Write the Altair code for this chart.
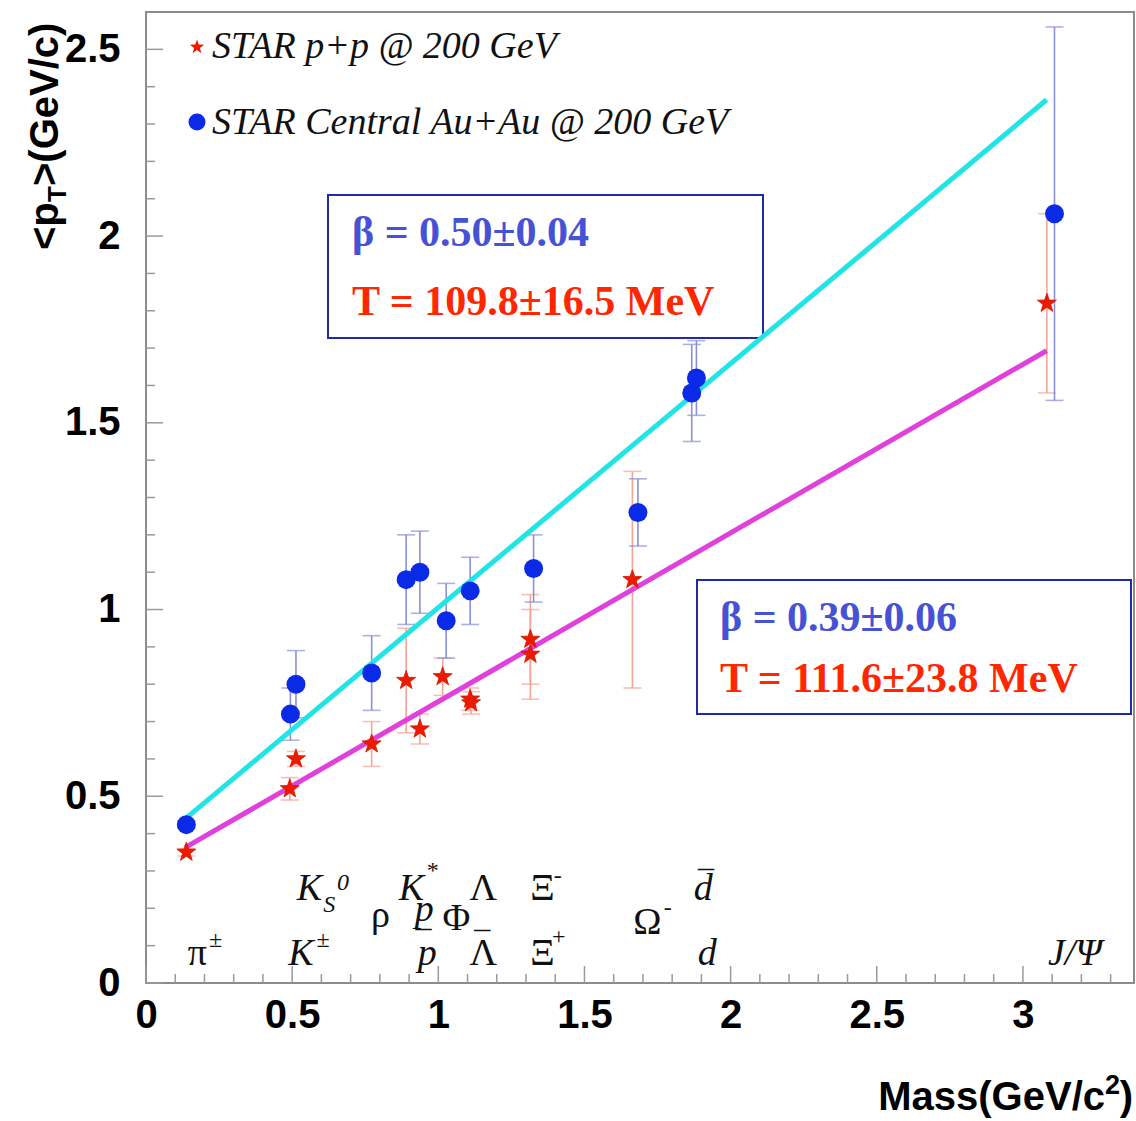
import altair as alt
import pandas as pd

# ---------------- data ----------------
# STAR Central Au+Au @ 200 GeV (blue circles)
aa_mass = [0.138, 0.494, 0.513, 0.772, 0.890, 0.937, 1.027, 1.109, 1.326, 1.683, 1.867, 1.883, 3.108]
aa_pt = [0.424, 0.72, 0.80, 0.83, 1.08, 1.10, 0.97, 1.05, 1.11, 1.26, 1.58, 1.62, 2.06]
aa_err = [0.01, 0.07, 0.09, 0.10, 0.12, 0.11, 0.10, 0.09, 0.09, 0.09, 0.13, 0.10, 0.50]

# STAR p+p @ 200 GeV (red stars)
pp_mass = [0.138, 0.492, 0.513, 0.772, 0.890, 0.937, 1.015, 1.109, 1.112, 1.315, 1.315, 1.664, 3.082]
pp_pt = [0.350, 0.52, 0.60, 0.64, 0.81, 0.68, 0.82, 0.76, 0.75, 0.92, 0.88, 1.08, 1.82]
pp_err = [0.01, 0.03, 0.02, 0.06, 0.14, 0.04, 0.05, 0.03, 0.03, 0.12, 0.12, 0.29, 0.24]

# blast-wave fit lines
fit_mass = [0.135, 3.081]
fit_aa = [0.440, 2.365]
fit_pp = [0.363, 1.693]

# axis ticks
x_major = [0, 0.5, 1, 1.5, 2, 2.5, 3]
x_minor = [0.1, 0.2, 0.3, 0.4, 0.6, 0.7, 0.8, 0.9, 1.1, 1.2, 1.3, 1.4, 1.6, 1.7, 1.8, 1.9,
           2.1, 2.2, 2.3, 2.4, 2.6, 2.7, 2.8, 2.9, 3.1, 3.2, 3.3]
y_major = [0, 0.5, 1, 1.5, 2, 2.5]
y_minor = [0.1, 0.2, 0.3, 0.4, 0.6, 0.7, 0.8, 0.9, 1.1, 1.2, 1.3, 1.4, 1.6, 1.7, 1.8, 1.9,
           2.1, 2.2, 2.3, 2.4]

# particle labels (text, mass position, height)
lab_italic = ["K", "K", "K", "p", "p", "d", "d", "J/Ψ"]
lab_italic_x = [0.530, 0.559, 0.908, 0.952, 0.962, 1.906, 1.920, 3.178]
lab_italic_y = [0.047, 0.221, 0.221, 0.167, 0.047, 0.221, 0.047, 0.047]

lab_normal = ["π", "ρ", "Φ", "Λ", "Λ", "Ξ", "Ξ", "Ω"]
lab_normal_x = [0.176, 0.802, 1.062, 1.154, 1.154, 1.356, 1.356, 1.715]
lab_normal_y = [0.047, 0.151, 0.141, 0.221, 0.047, 0.221, 0.047, 0.130]

sup_normal = ["±", "±", "*", "-", "+", "-"]
sup_normal_x = [0.238, 0.606, 0.981, 1.409, 1.412, 1.785]
sup_normal_y = [0.097, 0.097, 0.280, 0.269, 0.105, 0.181]

sup_italic = ["S", "0"]
sup_italic_x = [0.627, 0.674]
sup_italic_y = [0.189, 0.250]

bars = ["¯", "¯", "¯"]
bars_x = [0.949, 1.150, 1.916]
bars_y = [0.080, 0.078, 0.240]

legend_labels = ["STAR p+p @ 200 GeV", "STAR Central Au+Au @ 200 GeV"]
fit_text_aa = ["β = 0.50±0.04", "T = 109.8±16.5 MeV"]
fit_text_pp = ["β = 0.39±0.06", "T = 111.6±23.8 MeV"]

# ---------------- tables ----------------
aa = pd.DataFrame({"m": aa_mass, "v": aa_pt, "e": aa_err})
aa["lo"] = aa["v"] - aa["e"]
aa["hi"] = aa["v"] + aa["e"]
pp = pd.DataFrame({"m": pp_mass, "v": pp_pt, "e": pp_err})
pp["lo"] = pp["v"] - pp["e"]
pp["hi"] = pp["v"] + pp["e"]
fit = pd.DataFrame({"m": fit_mass, "aa": fit_aa, "pp": fit_pp})

W, H = 988, 971
SANS = "Liberation Sans"
SERIF = "Liberation Serif"
STAR = ("M0,-1L0.235,-0.324L0.951,-0.309L0.38,0.124L0.588,0.809L0,0.4"
        "L-0.588,0.809L-0.38,0.124L-0.951,-0.309L-0.235,-0.324Z")

xs = alt.Scale(domain=[0, 3.38], nice=False, zero=False)
ys = alt.Scale(domain=[0, 2.6], nice=False, zero=False)
xaxis = alt.Axis(values=x_major, format="~g", title=None, ticks=False, domain=False, grid=False,
                 labelFont=SANS, labelFontWeight="bold", labelFontSize=40, labelPadding=12,
                 labelColor="black", labelFlush=False, labelOverlap=False)
yaxis = alt.Axis(values=y_major, format="~g", title=None, ticks=False, domain=False, grid=False,
                 labelFont=SANS, labelFontWeight="bold", labelFontSize=40, labelPadding=26,
                 labelColor="black", labelFlush=False, labelOverlap=False)


def X(f):
    return alt.X(f, type="quantitative", scale=xs, axis=xaxis)


def Y(f):
    return alt.Y(f, type="quantitative", scale=ys, axis=yaxis)


layers = []

# axis ticks (inside the frame)
tick_col = "#9a9a9a"
layers.append(alt.Chart(pd.DataFrame({"v": y_major})).mark_rule(color=tick_col, strokeWidth=1.5)
              .encode(y=Y("v"), x=alt.value(0), x2=alt.value(17)))
layers.append(alt.Chart(pd.DataFrame({"v": y_minor})).mark_rule(color=tick_col, strokeWidth=1.5)
              .encode(y=Y("v"), x=alt.value(0), x2=alt.value(9)))
layers.append(alt.Chart(pd.DataFrame({"v": x_major})).mark_rule(color=tick_col, strokeWidth=1.5)
              .encode(x=X("v"), y=alt.value(H), y2=alt.value(H - 17)))
layers.append(alt.Chart(pd.DataFrame({"v": x_minor})).mark_rule(color=tick_col, strokeWidth=1.5)
              .encode(x=X("v"), y=alt.value(H), y2=alt.value(H - 9)))

# fit parameter boxes
box_col = "#1f2aa6"
layers.append(alt.Chart(pd.DataFrame({"a": [0]})).mark_rect(fill="white", stroke=box_col, strokeWidth=2)
              .encode(x=alt.value(182), x2=alt.value(617), y=alt.value(183), y2=alt.value(326)))
layers.append(alt.Chart(pd.DataFrame({"a": [1]})).mark_rect(fill="white", stroke=box_col, strokeWidth=2)
              .encode(x=alt.value(551), x2=alt.value(985), y=alt.value(568), y2=alt.value(702)))

for texts, x0, yb, yt in [(fit_text_aa, 206, 234, 303), (fit_text_pp, 574, 619, 680)]:
    layers.append(alt.Chart(pd.DataFrame({"t": [texts[0]]}))
                  .mark_text(font=SERIF, fontSize=42, fontWeight="bold", color="#4652d6",
                             align="left", baseline="alphabetic")
                  .encode(x=alt.value(x0), y=alt.value(yb), text="t:N"))
    layers.append(alt.Chart(pd.DataFrame({"t": [texts[1]]}))
                  .mark_text(font=SERIF, fontSize=42, fontWeight="bold", color="#ff2600",
                             align="left", baseline="alphabetic")
                  .encode(x=alt.value(x0), y=alt.value(yt), text="t:N"))

# legend (top left, inside frame)
layers.append(alt.Chart(pd.DataFrame({"t": [legend_labels[0]]}))
              .mark_text(font=SERIF, fontSize=38, fontStyle="italic", color="#111111",
                         align="left", baseline="alphabetic")
              .encode(x=alt.value(66), y=alt.value(46), text="t:N"))
layers.append(alt.Chart(pd.DataFrame({"t": [legend_labels[1]]}))
              .mark_text(font=SERIF, fontSize=38, fontStyle="italic", color="#111111",
                         align="left", baseline="alphabetic")
              .encode(x=alt.value(66), y=alt.value(122), text="t:N"))


# particle labels
def lab_layer(texts, xv, yv, size, style):
    df = pd.DataFrame({"t": texts, "m": xv, "v": yv})
    return (alt.Chart(df)
            .mark_text(font=SERIF, fontSize=size, fontStyle=style, color="#111111",
                       align="center", baseline="alphabetic")
            .encode(x=X("m"), y=Y("v"), text="t:N"))


layers.append(lab_layer(lab_italic, lab_italic_x, lab_italic_y, 38, "italic"))
layers.append(lab_layer(lab_normal, lab_normal_x, lab_normal_y, 38, "normal"))
layers.append(lab_layer(sup_normal, sup_normal_x, sup_normal_y, 24, "normal"))
layers.append(lab_layer(sup_italic, sup_italic_x, sup_italic_y, 24, "italic"))
layers.append(lab_layer(bars, bars_x, bars_y, 32, "normal"))

# axis titles
ytitle = [("<p", 58, 238, 40), ("T", 66, 190, 26), (">(GeV/c)", 58, 174, 40)]
for t, xv, yv, fs in ytitle:
    layers.append(alt.Chart(pd.DataFrame({"t": [t]}))
                  .mark_text(font=SANS, fontSize=fs, fontWeight="bold", color="black",
                             align="left", baseline="alphabetic", angle=270)
                  .encode(x=alt.value(xv - 146), y=alt.value(yv), text="t:N"))

xtitle = [("Mass(GeV/c", 959, 1098, 40), ("2", 974, 1082, 27), (")", 987, 1098, 40)]
for t, xv, yv, fs in xtitle:
    layers.append(alt.Chart(pd.DataFrame({"t": [t]}))
                  .mark_text(font=SANS, fontSize=fs, fontWeight="bold", color="black",
                             align="right", baseline="alphabetic")
                  .encode(x=alt.value(xv), y=alt.value(yv), text="t:N"))

# error bars
for df, col in [(pp, "#f3a595"), (aa, "#8a90d2")]:
    layers.append(alt.Chart(df).mark_rule(color=col, strokeWidth=1.6)
                  .encode(x=X("m"), y=Y("lo"), y2="hi"))
    layers.append(alt.Chart(df).mark_tick(color=col, orient="horizontal", size=18, thickness=1.6)
                  .encode(x=X("m"), y=Y("lo")))
    layers.append(alt.Chart(df).mark_tick(color=col, orient="horizontal", size=18, thickness=1.6)
                  .encode(x=X("m"), y=Y("hi")))

# fit lines
layers.append(alt.Chart(fit).mark_line(color="#e040dc", strokeWidth=5)
              .encode(x=X("m"), y=Y("pp")))
layers.append(alt.Chart(fit).mark_line(color="#22e3e6", strokeWidth=5)
              .encode(x=X("m"), y=Y("aa")))

# legend symbols
layers.append(alt.Chart(pd.DataFrame({"a": [2]})).mark_point(shape="circle", filled=True, color="#0a2ae8",
                                                              size=290, opacity=1)
              .encode(x=alt.value(51), y=alt.value(110)))
layers.append(alt.Chart(pd.DataFrame({"a": [3]})).mark_point(shape=STAR, filled=True, color="#ee1a00",
                                                              size=230, opacity=1)
              .encode(x=alt.value(51), y=alt.value(35)))

# data points
layers.append(alt.Chart(aa).mark_point(shape="circle", filled=True, color="#0a2ae8", size=360, opacity=1)
              .encode(x=X("m"), y=Y("v")))
layers.append(alt.Chart(pp).mark_point(shape=STAR, filled=True, color="#ee1a00", size=400, opacity=1,
                                       stroke="#d41500", strokeWidth=0.8)
              .encode(x=X("m"), y=Y("v")))

chart = (alt.layer(*layers)
         .properties(width=W, height=H,
                     autosize=alt.AutoSizeParams(type="none"),
                     padding={"left": 146, "top": 12, "right": 2, "bottom": 138})
         .configure_view(stroke="#8c8c8c", strokeWidth=2))

chart.save("out.html", embed_options={"renderer": "svg", "actions": False})
